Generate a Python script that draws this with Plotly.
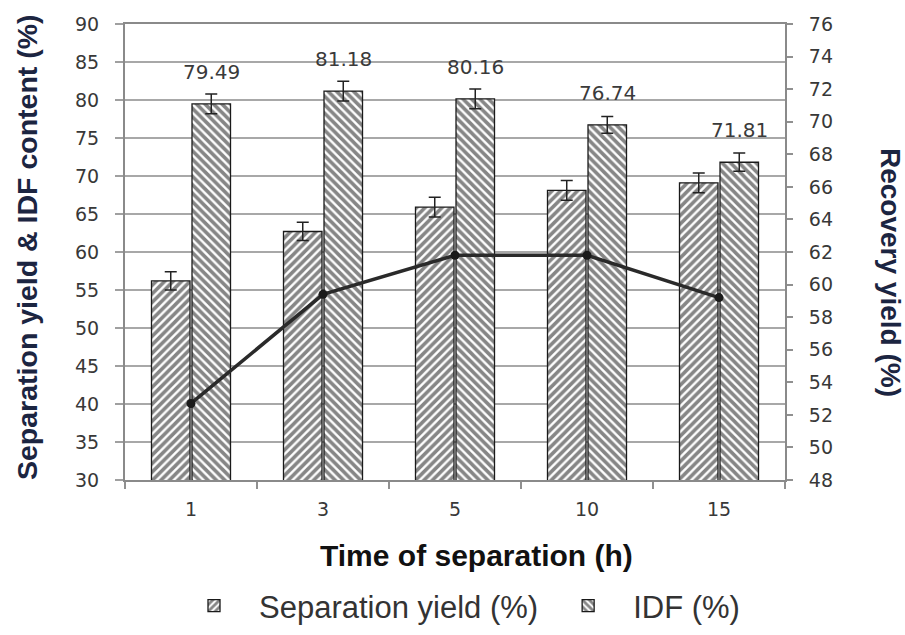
import plotly.graph_objects as go

categories = ["1", "3", "5", "10", "15"]
separation_yield = [56.2, 62.7, 65.9, 68.1, 69.1]
separation_err = [1.2, 1.2, 1.3, 1.3, 1.3]
idf_content = [79.49, 81.18, 80.16, 76.74, 71.81]
idf_err = [1.3, 1.3, 1.3, 1.1, 1.2]
recovery_yield = [52.7, 59.4, 61.8, 61.8, 59.2]
idf_labels = ["79.49", "81.18", "80.16", "76.74", "71.81"]

BARGAP = 0.386
TITLE_COLOR = "#1c2541"
TICK_FONT = dict(family="DejaVu Sans", size=19, color="#383838")

plot_l, plot_r, plot_t, plot_b = 125, 785, 24, 480
W, H = 905, 635
PW, PH = plot_r - plot_l, plot_b - plot_t


def px_x(px):
    return (px - plot_l) / PW


def px_y(py):
    return (plot_b - py) / PH


fig = go.Figure()

fig.add_trace(go.Bar(
    x=categories, y=separation_yield, name="Separation yield (%)",
    marker=dict(color="white", line=dict(color="#1a1a1a", width=1.3),
                pattern=dict(shape="/", fgcolor="#0d0d0d", bgcolor="white",
                             size=6, solidity=0.6)),
    error_y=dict(type="data", array=separation_err, color="#222222",
                 thickness=1.5, width=6),
))
fig.add_trace(go.Bar(
    x=categories, y=idf_content, name="IDF (%)",
    marker=dict(color="white", line=dict(color="#1a1a1a", width=1.3),
                pattern=dict(shape="\\", fgcolor="#0d0d0d", bgcolor="white",
                             size=6, solidity=0.6)),
    error_y=dict(type="data", array=idf_err, color="#222222",
                 thickness=1.5, width=6),
))
fig.add_trace(go.Scatter(
    x=categories, y=recovery_yield, yaxis="y2", mode="lines+markers",
    line=dict(color="#2a2a2a", width=3.5),
    marker=dict(color="#1a1a1a", size=9),
    showlegend=False, name="Recovery yield (%)",
))

offset = (1 - BARGAP) / 4
annotations = []
for i, (v, lab) in enumerate(zip(idf_content, idf_labels)):
    annotations.append(dict(
        x=i + offset, y=v, xref="x", yref="y", text=lab, showarrow=False,
        yshift=32, font=dict(family="DejaVu Sans", size=20, color="#3a3a3a"),
    ))

annotations.append(dict(
    x=px_x(27), y=px_y(247), xref="paper", yref="paper",
    xanchor="center", yanchor="middle",
    text="<b>Separation yield & IDF content (%)</b>", textangle=-90,
    showarrow=False,
    font=dict(family="Liberation Sans", size=28.5, color=TITLE_COLOR),
))
annotations.append(dict(
    x=px_x(891), y=px_y(272), xref="paper", yref="paper",
    xanchor="center", yanchor="middle",
    text="<b>Recovery yield (%)</b>", textangle=90, showarrow=False,
    font=dict(family="Liberation Sans", size=28, color=TITLE_COLOR),
))
annotations.append(dict(
    x=px_x(476), y=px_y(555), xref="paper", yref="paper",
    xanchor="center", yanchor="middle",
    text="<b>Time of separation (h)</b>", showarrow=False,
    font=dict(family="Liberation Sans", size=30, color="#111111"),
))

fig.update_layout(
    width=W, height=H,
    margin=dict(l=plot_l, r=W - plot_r, t=plot_t, b=H - plot_b,
                autoexpand=False),
    paper_bgcolor="white", plot_bgcolor="white",
    barmode="group", bargap=BARGAP, bargroupgap=0.05,
    annotations=annotations,
    xaxis=dict(
        type="category", tickson="boundaries", ticks="outside", ticklen=7,
        tickcolor="#909090", tickwidth=1.5,
        showline=True, linecolor="#8a8a8a", linewidth=2, mirror=True,
        showgrid=False, tickfont=TICK_FONT, ticklabelstandoff=11,
        automargin=False,
    ),
    yaxis=dict(
        range=[30, 90], dtick=5, ticks="outside", ticklen=8,
        tickcolor="#a0a0a0", tickwidth=2,
        showline=True, linecolor="#8a8a8a", linewidth=2,
        showgrid=True, gridcolor="#a8a8a8", gridwidth=2,
        zeroline=False, tickfont=TICK_FONT, ticklabelstandoff=12,
        automargin=False,
    ),
    yaxis2=dict(
        range=[48, 76], dtick=2, overlaying="y", side="right",
        ticks="outside", ticklen=6, tickcolor="#909090", tickwidth=1.5,
        showline=True, linecolor="#8a8a8a", linewidth=2,
        showgrid=False, zeroline=False, tickfont=TICK_FONT,
        ticklabelstandoff=12, automargin=False,
    ),
    legend=dict(
        orientation="h", x=px_x(457), xanchor="center",
        y=px_y(606), yanchor="middle",
        font=dict(family="Liberation Sans", size=31, color="#333333"),
        itemwidth=80, bgcolor="rgba(0,0,0,0)",
    ),
    showlegend=True,
)

fig.write_html("out.html")
